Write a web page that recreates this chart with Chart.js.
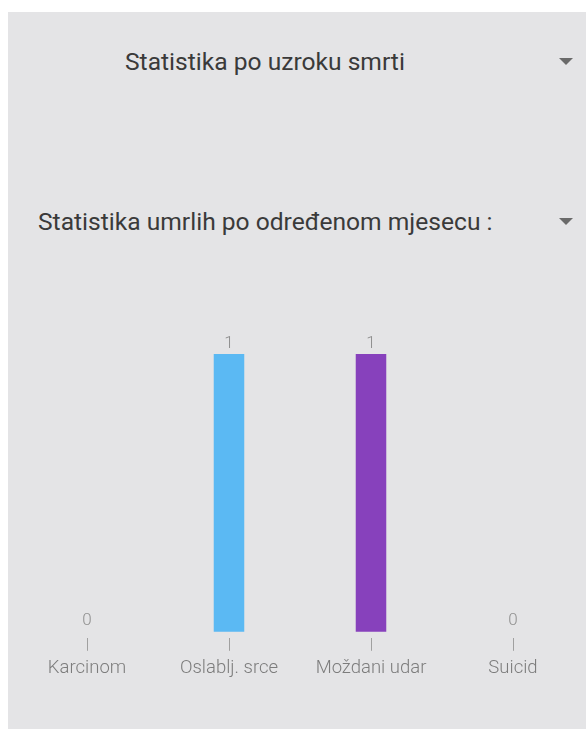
<!DOCTYPE html>
<html>
<head>
<meta charset="utf-8">
<script src="https://cdn.jsdelivr.net/npm/chart.js@4"></script>
<style>
    html, body { margin: 0; padding: 0; background: #ffffff; }
    body { width: 586px; height: 731px; position: relative; overflow: hidden; font-family: Roboto, "Noto Sans", sans-serif; }
    .panel { position: absolute; left: 8px; top: 12px; right: 0; bottom: 2px; background: #e4e4e6; }
    .spinner { position: absolute; font-size: 24.6px; color: #3a3a3a; line-height: 30px; white-space: nowrap; }
    .arrow { position: absolute; left: 559px; width: 0; height: 0; border-left: 7px solid transparent; border-right: 7px solid transparent; border-top: 7px solid #6a6a6a; }
    #chartBox { position: absolute; left: 8px; top: 290px; width: 578px; height: 430px; }
</style>
</head>
<body>
<div class="panel"></div>
<div class="spinner" id="cause" style="left:125px; top:47px;">Statistika po uzroku smrti</div>
<div class="arrow" style="top:58px;"></div>
<div class="spinner" id="month" style="left:38px; top:207px;">Statistika umrlih po određenom mjesecu :</div>
<div class="arrow" style="top:218px;"></div>
<div id="chartBox"><canvas id="deathChart"></canvas></div>
<script>
// Chart data
const categories = ['Karcinom', 'Oslablj. srce', 'Moždani udar', 'Suicid'];
const deaths = [0, 1, 1, 0];
const barColors = ['#f2b134', '#5bb9f3', '#8741bc', '#e0566a'];

// Value labels drawn above each bar
const valueLabels = {
    id: 'valueLabels',
    afterDatasetsDraw(chart) {
        const ctx = chart.ctx;
        const meta = chart.getDatasetMeta(0);
        ctx.save();
        ctx.font = '300 17px Roboto';
        ctx.fillStyle = '#909090';
        ctx.textAlign = 'center';
        ctx.textBaseline = 'bottom';
        meta.data.forEach((bar, i) => {
            ctx.fillText(String(deaths[i]), bar.x, bar.y - 2);
        });
        ctx.restore();
    }
};

Chart.defaults.font.family = 'Roboto';

new Chart(document.getElementById('deathChart'), {
    type: 'bar',
    data: {
        labels: categories,
        datasets: [{
            data: deaths,
            backgroundColor: barColors,
            borderWidth: 0,
            barPercentage: 0.215,
            categoryPercentage: 1
        }]
    },
    options: {
        responsive: true,
        maintainAspectRatio: false,
        animation: false,
        layout: { padding: { left: 8, right: 2, top: 64, bottom: 35 } },
        plugins: {
            legend: { display: false },
            tooltip: { enabled: false }
        },
        scales: {
            x: {
                offset: true,
                border: { display: false },
                grid: {
                    offset: false,
                    drawOnChartArea: false,
                    drawTicks: true,
                    tickLength: 13,
                    color: '#a0a0a0',
                    lineWidth: 1
                },
                ticks: {
                    padding: 6,
                    color: '#7c7c7c',
                    font: { size: 18.5, weight: 300 },
                    maxRotation: 0
                }
            },
            y: {
                display: false,
                min: -0.022,
                max: 1
            }
        }
    },
    plugins: [valueLabels]
});
</script>
</body>
</html>
